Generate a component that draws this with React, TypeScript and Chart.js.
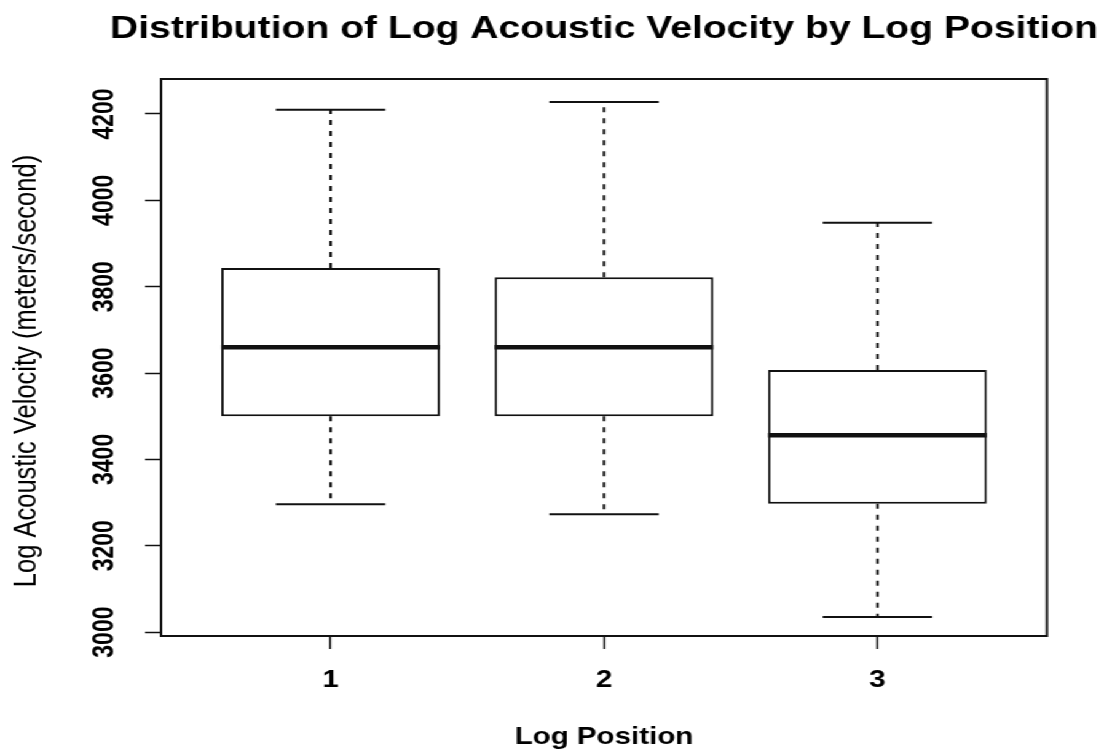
import React, { useEffect, useRef } from "react";
import { Chart, registerables } from "chart.js";

Chart.register(...registerables);

// ---- data ----
const chartTitle = "Distribution of Log Acoustic Velocity by Log Position";
const xAxisTitle = "Log Position";
const yAxisTitle = "Log Acoustic Velocity (meters/second)";
const categories = ["1", "2", "3"];
const positions = [1, 2, 3];
const whiskerLow = [3296, 3273, 3035];
const q1 = [3500, 3500, 3297];
const medians = [3660, 3660, 3456];
const q3 = [3843, 3822, 3607];
const whiskerHigh = [4210, 4228, 3948];
const yTicks = [3000, 3200, 3400, 3600, 3800, 4000, 4200];

// ---- layout ----
const W = 898;
const H = 753;
const STRETCH = 1104 / W;
const FONT = '"Liberation Sans", Arial, Helvetica, sans-serif';
const INK = "#111";

const boxPlugin = {
  id: "rBoxplot",
  afterDatasetsDraw(chart: any) {
    const { ctx, scales } = chart;
    const x = scales.x;
    const y = scales.y;
    ctx.save();
    ctx.strokeStyle = INK;
    ctx.lineCap = "butt";
    positions.forEach((p, i) => {
      const cx = x.getPixelForValue(p);
      const capL = x.getPixelForValue(p - 0.2);
      const capR = x.getPixelForValue(p + 0.2);
      const boxL = x.getPixelForValue(p - 0.4);
      const boxR = x.getPixelForValue(p + 0.4);
      const seg = (x1: number, y1: number, x2: number, y2: number) => {
        ctx.beginPath();
        ctx.moveTo(x1, y1);
        ctx.lineTo(x2, y2);
        ctx.stroke();
      };
      // whiskers (dashed)
      ctx.lineWidth = 2;
      ctx.setLineDash([5, 6]);
      seg(cx, y.getPixelForValue(q3[i]), cx, y.getPixelForValue(whiskerHigh[i]));
      seg(cx, y.getPixelForValue(q1[i]), cx, y.getPixelForValue(whiskerLow[i]));
      ctx.setLineDash([]);
      // caps
      ctx.lineWidth = 2;
      seg(capL, y.getPixelForValue(whiskerHigh[i]), capR, y.getPixelForValue(whiskerHigh[i]));
      seg(capL, y.getPixelForValue(whiskerLow[i]), capR, y.getPixelForValue(whiskerLow[i]));
      // median
      ctx.lineWidth = 4.5;
      seg(boxL, y.getPixelForValue(medians[i]), boxR, y.getPixelForValue(medians[i]));
    });
    ctx.restore();
  },
  afterDraw(chart: any) {
    const { ctx, chartArea } = chart;
    ctx.save();
    ctx.strokeStyle = INK;
    ctx.lineWidth = 2;
    ctx.strokeRect(
      chartArea.left,
      chartArea.top,
      chartArea.right - chartArea.left,
      chartArea.bottom - chartArea.top
    );
    ctx.fillStyle = "#000";
    ctx.font = `bold 31.8px ${FONT}`;
    ctx.textAlign = "center";
    ctx.textBaseline = "alphabetic";
    ctx.fillText(chartTitle, (chartArea.left + chartArea.right) / 2, 38);
    // y axis title
    ctx.translate(22, 371);
    ctx.rotate(-Math.PI / 2);
    ctx.font = `25.5px ${FONT}`;
    ctx.textBaseline = "middle";
    ctx.fillText(yAxisTitle, 0, 0);
    ctx.restore();
  },
};

export default function App() {
  const ref = useRef<HTMLCanvasElement>(null);

  useEffect(() => {
    if (!ref.current) return;
    Chart.defaults.font.family = FONT;
    const chart = new Chart(ref.current, {
      type: "bar",
      data: {
        datasets: [
          {
            data: positions.map((p, i) => ({ x: p, y: [q1[i], q3[i]] })) as any,
            backgroundColor: "#ffffff",
            borderColor: INK,
            borderWidth: 2,
            borderSkipped: false,
            categoryPercentage: 1,
            barPercentage: 0.8,
          },
        ],
      },
      options: {
        responsive: false,
        animation: false,
        devicePixelRatio: 1,
        layout: { padding: { left: 0, right: 46.4, top: 79, bottom: 0 } },
        plugins: {
          legend: { display: false },
          tooltip: { enabled: false },
          title: { display: false },
        },
        scales: {
          x: {
            type: "linear",
            min: 0.38,
            max: 3.62,
            offset: false,
            afterBuildTicks: (s: any) => {
              s.ticks = positions.map((v) => ({ value: v }));
            },
            afterFit: (s: any) => {
              s.height = 117;
            },
            ticks: {
              autoSkip: false,
              minRotation: 0,
              maxRotation: 0,
              padding: 17,
              color: "#000",
              font: { size: 24, weight: "bold" },
              callback: (v: any) => {
                const k = positions.indexOf(Number(v));
                return k >= 0 ? categories[k] : "";
              },
            },
            grid: {
              display: true,
              offset: false,
              drawOnChartArea: false,
              drawTicks: true,
              tickLength: 13,
              tickWidth: 1.5,
              tickColor: INK,
            },
            border: { display: false },
            title: {
              display: true,
              text: xAxisTitle,
              color: "#000",
              font: { size: 24, weight: "bold" },
              padding: { top: 0, bottom: 1 },
            },
          },
          y: {
            type: "linear",
            min: 2991,
            max: 4281,
            beginAtZero: false,
            afterBuildTicks: (s: any) => {
              s.ticks = yTicks.map((v) => ({ value: v }));
            },
            afterFit: (s: any) => {
              s.width = 131;
            },
            ticks: {
              minRotation: 90,
              maxRotation: 90,
              crossAlign: "center",
              padding: 7,
              color: "#000",
              font: { size: 23, weight: "bold" },
              callback: (v: any) => String(v),
            },
            grid: {
              display: true,
              drawOnChartArea: false,
              drawTicks: true,
              tickLength: 13,
              tickWidth: 1.5,
              tickColor: INK,
            },
            border: { display: false },
            title: { display: false },
          },
        },
      } as any,
      plugins: [boxPlugin],
    });
    return () => chart.destroy();
  }, []);

  return (
    <div
      style={{
        position: "fixed",
        left: 0,
        top: 0,
        width: W,
        height: H,
        transform: `scaleX(${STRETCH})`,
        transformOrigin: "0 0",
        background: "#fff",
      }}
    >
      <canvas
        ref={ref}
        width={W}
        height={H}
        style={{ width: W, height: H, display: "block" }}
      />
    </div>
  );
}
